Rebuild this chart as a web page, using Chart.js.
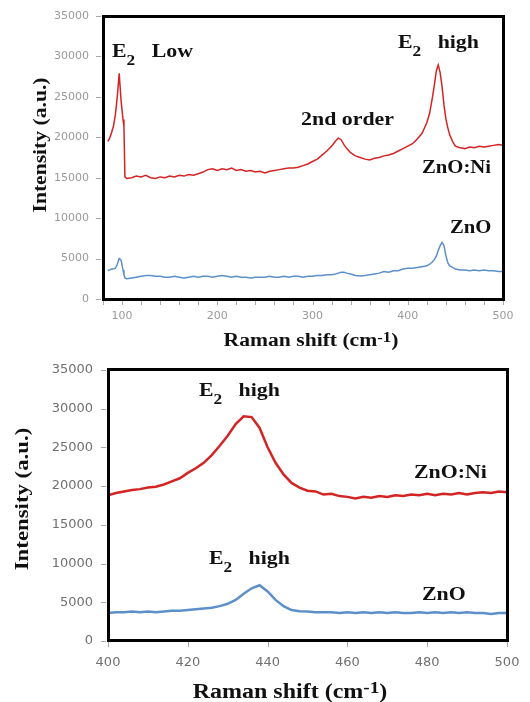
<!DOCTYPE html>
<html>
<head>
<meta charset="utf-8">
<script src="https://cdn.jsdelivr.net/npm/chart.js@4.4.0/dist/chart.umd.min.js"></script>
<style>
  body { margin: 0; background: #fff; width: 530px; height: 702px; overflow: hidden; position: relative; }
  canvas { position: absolute; left: 0; }
  #top { top: 0; }
  #bottom { top: 352px; }
  .frame { position: absolute; box-sizing: border-box; border: 3px solid #000; }
  .tick { position: absolute; background: #a8a8a8; }
</style>
</head>
<body>
<canvas id="top" width="530" height="352"></canvas>
<canvas id="bottom" width="530" height="350"></canvas>
<script>
// full Raman spectra (upper panel)
const topShift = [85, 87, 89, 91, 93, 95, 97, 99, 101, 102,
  103, 105, 110, 115, 120, 125, 130, 135, 140, 145,
  150, 155, 160, 165, 170, 175, 180, 185, 190, 195,
  200, 205, 210, 215, 220, 225, 230, 235, 240, 245,
  250, 255, 260, 265, 270, 275, 280, 285, 290, 295,
  300, 305, 310, 315, 320, 324, 327, 330, 333, 336,
  340, 345, 350, 355, 360, 365, 370, 375, 380, 385,
  390, 395, 400, 405, 410, 415, 420, 423, 426, 428,
  430, 432, 434, 436, 438, 440, 442, 444, 447, 450,
  455, 460, 465, 470, 475, 480, 485, 490, 495, 500]
const topZnONi = [19500, 19900, 20600, 21400, 22800, 25000, 27900, 24500, 22200, 21300,
  15100, 14900, 15000, 15200, 15100, 15300, 15000, 14900, 15100, 15000,
  15200, 15100, 15300, 15200, 15400, 15300, 15500, 15700, 16000, 16100,
  15900, 16100, 16000, 16200, 15900, 16000, 15800, 15900, 15700, 15800,
  15600, 15800, 15900, 16000, 16100, 16200, 16200, 16300, 16500, 16700,
  17000, 17300, 17800, 18300, 18900, 19500, 19900, 19700, 19100, 18600,
  18100, 17700, 17500, 17300, 17200, 17400, 17500, 17700, 17800, 18000,
  18300, 18600, 18900, 19200, 19800, 20500, 21800, 23000, 25000, 26500,
  28200, 28950, 28000, 26300, 24000, 22300, 21200, 20300, 19500, 18900,
  18700, 18600, 18800, 18700, 18900, 18800, 18900, 19000, 19100, 19000]
const topZnO = [3500, 3600, 3700, 3700, 3800, 4300, 5000, 4800, 3600, 3000,
  2600, 2500, 2600, 2700, 2800, 2900, 2900, 2800, 2800, 2700,
  2700, 2800, 2700, 2600, 2700, 2800, 2700, 2800, 2800, 2700,
  2800, 2900, 2800, 2700, 2800, 2700, 2700, 2600, 2700, 2700,
  2700, 2800, 2700, 2700, 2800, 2700, 2800, 2800, 2700, 2800,
  2800, 2900, 2900, 3000, 3000, 3100, 3200, 3300, 3300, 3200,
  3100, 2900, 2850, 2900, 3000, 3100, 3200, 3400, 3300, 3500,
  3500, 3700, 3800, 3800, 3900, 4000, 4100, 4300, 4600, 4900,
  5300, 6000, 6600, 7000, 6600, 5400, 4500, 4100, 3900, 3700,
  3600, 3600, 3500, 3600, 3500, 3600, 3500, 3500, 3400, 3400]
const topShiftLabels = [100, 200, 300, 400, 500]

// zoom on the E2 high band (lower panel)
const zoomShift = [400, 402, 404, 406, 408, 410, 412, 414, 416, 418,
  420, 422, 424, 426, 428, 430, 432, 434, 436, 438,
  440, 442, 444, 446, 448, 450, 452, 454, 456, 458,
  460, 462, 464, 466, 468, 470, 472, 474, 476, 478,
  480, 482, 484, 486, 488, 490, 492, 494, 496, 498, 500]
const zoomZnONi = [18800, 19100, 19300, 19500, 19600, 19800, 19900, 20200, 20600, 21000,
  21700, 22300, 23000, 24000, 25200, 26500, 28000, 29000, 28900, 27500,
  25000, 23000, 21500, 20400, 19800, 19400, 19300, 18900, 19000, 18700,
  18600, 18400, 18600, 18500, 18700, 18600, 18800, 18700, 18900, 18800,
  19000, 18800, 19000, 18900, 19100, 18900, 19100, 19200, 19100, 19300, 19200]
const zoomZnO = [3600, 3700, 3700, 3800, 3700, 3800, 3700, 3800, 3900, 3900,
  4000, 4100, 4200, 4300, 4500, 4800, 5300, 6100, 6800, 7200,
  6400, 5300, 4500, 4000, 3850, 3800, 3700, 3700, 3700, 3600,
  3700, 3600, 3700, 3600, 3700, 3600, 3700, 3600, 3600, 3700,
  3600, 3700, 3600, 3700, 3600, 3700, 3600, 3600, 3500, 3600, 3600]

const topNotes = [
  { x: 89.5, y: 29900, parts: [["E", "n"], ["2", "sub"], ["   Low", "n"]], size: 19 },
  { x: 389.8, y: 31000, parts: [["E", "n"], ["2", "sub"], ["   high", "n"]], size: 19 },
  { x: 288, y: 21500, parts: [["2nd order", "n"]], size: 19 },
  { x: 415, y: 15600, parts: [["ZnO:Ni", "n"]], size: 18 },
  { x: 444.4, y: 8150, parts: [["ZnO", "n"]], size: 18 }
]
const zoomNotes = [
  { x: 422.8, y: 31600, parts: [["E", "n"], ["2", "sub"], ["   high", "n"]], size: 19 },
  { x: 476.7, y: 21050, parts: [["ZnO:Ni", "n"]], size: 19 },
  { x: 425.3, y: 9950, parts: [["E", "n"], ["2", "sub"], ["   high", "n"]], size: 19 },
  { x: 478.7, y: 5230, parts: [["ZnO", "n"]], size: 19 }
]

const SERIF = '"Liberation Serif", serif'
const STRETCH = 1.15

function partFont(kind, size) {
  const s = Math.round(kind === "n" ? size : size * 0.8)
  return "bold " + s + "px " + SERIF
}
function partsWidth(ctx, parts, size) {
  let w = 0
  for (const [t, kind] of parts) {
    ctx.font = partFont(kind, size)
    w += ctx.measureText(t).width
  }
  return w
}
// draws text pieces with sub/superscripts, x = left edge, y = baseline
function drawParts(ctx, parts, x, y, size, stretch, rotate, center) {
  ctx.save()
  ctx.translate(x, y)
  if (rotate) ctx.rotate(-Math.PI / 2)
  ctx.scale(stretch, 1)
  let cx = center ? -partsWidth(ctx, parts, size) / 2 : 0
  ctx.fillStyle = "#111"
  ctx.textBaseline = "alphabetic"
  ctx.textAlign = "left"
  for (const [t, kind] of parts) {
    ctx.font = partFont(kind, size)
    const dy = kind === "sub" ? size * 0.42 : kind === "sup" ? -size * 0.25 : 0
    ctx.fillText(t, cx, dy)
    cx += ctx.measureText(t).width
  }
  ctx.restore()
}

const titleParts = [["Raman shift (cm", "n"], ["-1", "sup"], [")", "n"]]
const yTitleParts = [["Intensity (a.u.)", "n"]]

function decorPlugin(cfg) {
  return {
    id: "decor",
    afterDraw(chart) {
      const ctx = chart.ctx
      const xs = chart.scales.x, ys = chart.scales.y
      for (const n of cfg.notes) {
        drawParts(ctx, n.parts, xs.getPixelForValue(n.x), ys.getPixelForValue(n.y), n.size, STRETCH, false, false)
      }
      const xt = cfg.xTitle, yt = cfg.yTitle
      drawParts(ctx, titleParts, xt.cx, xt.base, xt.size, 1.2, false, true)
      drawParts(ctx, yTitleParts, yt.cx + yt.size * 0.3, yt.cy, yt.size, 1.2, true, true)
    }
  }
}

// frame and tick marks as overlay boxes, placed from the chart's own scales
function addFrame(chart, offsetTop) {
  const xs = chart.scales.x, ys = chart.scales.y
  const left = xs.getPixelForValue(xs.min), right = xs.getPixelForValue(xs.max)
  const top = ys.getPixelForValue(ys.max), bottom = ys.getPixelForValue(ys.min)
  const box = (cls, l, t, w, h) => {
    const d = document.createElement("div")
    d.className = cls
    d.style.left = l + "px"
    d.style.top = (offsetTop + t) + "px"
    d.style.width = w + "px"
    d.style.height = h + "px"
    document.body.appendChild(d)
  }
  for (const t of xs.ticks) {
    box("tick", Math.round(xs.getPixelForValue(t.value)), bottom + 1, 1, 5)
  }
  for (const t of ys.ticks) {
    box("tick", left - 7, Math.round(ys.getPixelForValue(t.value)), 5, 1)
  }
  box("frame", left - 1.5, top - 1.5, right - left + 3, bottom - top + 3)
}

function points(xs, ys) {
  return xs.map((x, i) => ({ x: x, y: ys[i] }))
}

function makeChart(id, cfg) {
  return new Chart(document.getElementById(id), {
    type: "line",
    data: {
      datasets: [
        { data: points(cfg.shift, cfg.ni), borderColor: "#d42424", borderWidth: cfg.lw, pointRadius: 0, tension: 0 },
        { data: points(cfg.shift, cfg.zno), borderColor: "#5d8fc9", borderWidth: cfg.lw, pointRadius: 0, tension: 0 }
      ]
    },
    options: {
      responsive: false,
      animation: false,
      events: [],
      layout: { padding: cfg.padding },
      plugins: { legend: { display: false }, tooltip: { enabled: false } },
      scales: {
        x: {
          type: "linear",
          min: cfg.xMin, max: cfg.xMax,
          border: { display: false },
          grid: { drawOnChartArea: false, tickLength: 6, color: "rgba(0,0,0,0)" },
          ticks: {
            stepSize: 20, autoSkip: false, maxRotation: 0,
            color: cfg.tickColor, padding: cfg.xPad,
            font: { family: "DejaVu Sans", size: cfg.fs },
            callback: cfg.xLabel
          },
          afterFit: (s) => { s.height = cfg.xH }
        },
        y: {
          min: 0, max: 35000,
          border: { display: false },
          grid: { drawOnChartArea: false, tickLength: 5, color: "rgba(0,0,0,0)" },
          ticks: {
            stepSize: 5000, color: cfg.tickColor, padding: cfg.yPad,
            font: { family: "DejaVu Sans", size: cfg.fs },
            callback: (v) => String(v)
          },
          afterFit: (s) => { s.width = cfg.yW }
        }
      }
    },
    plugins: [decorPlugin(cfg)]
  })
}

const topChart = makeChart("top", {
  shift: topShift, ni: topZnONi, zno: topZnO, lw: 1.5,
  xMin: 80, xMax: 500,
  xLabel: (v) => topShiftLabels.includes(v) ? String(v) : "",
  padding: { left: 0, right: 27, top: 16, bottom: 0 },
  xH: 53, yW: 103, xPad: 5, yPad: 9, fs: 11, tickColor: "#9a9a9a",
  notes: topNotes,
  xTitle: { cx: 311, base: 346, size: 18 },
  yTitle: { cx: 41, cy: 145, size: 18 }
})

const zoomChart = makeChart("bottom", {
  shift: zoomShift, ni: zoomZnONi, zno: zoomZnO, lw: 2.5,
  xMin: 400, xMax: 500,
  xLabel: (v) => String(v),
  padding: { left: 0, right: 23, top: 9, bottom: 0 },
  xH: 61, yW: 108, xPad: 8, yPad: 10, fs: 13, tickColor: "#707070",
  notes: zoomNotes,
  xTitle: { cx: 290, base: 346, size: 20 },
  yTitle: { cx: 22.5, cy: 147, size: 19 }
})

addFrame(topChart, 0)
addFrame(zoomChart, 352)
</script>
</body>
</html>
